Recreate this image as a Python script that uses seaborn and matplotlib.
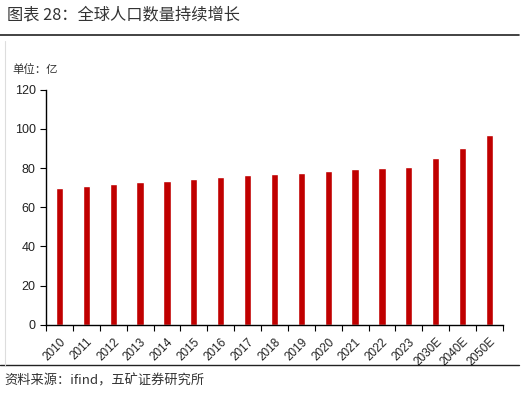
import matplotlib
matplotlib.use("Agg")
import matplotlib.pyplot as plt
import seaborn as sns
import pandas as pd
import numpy as np
from matplotlib.lines import Line2D

years = ["2010", "2011", "2012", "2013", "2014", "2015", "2016", "2017", "2018",
         "2019", "2020", "2021", "2022", "2023", "2030E", "2040E", "2050E"]
population = [70.0, 70.8, 72.0, 72.7, 73.5, 74.4, 75.2, 76.3, 77.0,
              77.6, 78.6, 79.3, 80.0, 80.7, 84.9, 90.0, 97.0]
y_ticks = [0, 20, 40, 60, 80, 100, 120]

title = "图表 28：全球人口数量持续增长"
unit = "单位：亿"
source = "资料来源：ifind，五矿证券研究所"

sns.set_theme(style="white")
plt.rcParams['font.family'] = ['Noto Sans CJK SC', 'DejaVu Sans']

df = pd.DataFrame({"year": years, "pop": population})

fig = plt.figure(figsize=(5.24, 3.93), dpi=100)
ax = fig.add_axes([0.0878, 0.1738, 0.872, 0.598])
sns.barplot(data=df, x="year", y="pop", color="#C00000", saturation=1,
            width=0.27, ax=ax)

ax.set_ylim(0, 120)
ax.set_yticks(y_ticks)
ax.set_xlim(-0.5, len(years) - 0.5)
ax.set_xlabel("")
ax.set_ylabel("")
ax.set_xticks(range(len(years)))
ax.set_xticklabels(years, rotation=45, ha="right", rotation_mode="anchor",
                   fontsize=8.5, family=['Liberation Sans'], color="#222222")
ax.set_xticks(np.arange(-0.5, len(years)), minor=True)
ax.tick_params(axis="x", which="major", length=0, pad=8)
ax.tick_params(axis="x", which="minor", length=4, width=0.8, color="black",
               direction="out", bottom=True)
ax.tick_params(axis="y", length=4, width=0.8, color="black", direction="out",
               left=True, labelsize=9, labelcolor="#222222")
for lab in ax.get_yticklabels():
    lab.set_family('Liberation Sans')
for s in ["top", "right"]:
    ax.spines[s].set_visible(False)
for s in ["left", "bottom"]:
    ax.spines[s].set_color("black")
    ax.spines[s].set_linewidth(1.0)

fig.text(0.013, 0.962, title, fontsize=11.7, color="#333333", va="center")
fig.add_artist(Line2D([0.0, 0.99], [0.91, 0.91], transform=fig.transFigure,
                      color="#222222", lw=1.2))
fig.add_artist(Line2D([0.0, 0.99], [0.072, 0.072], transform=fig.transFigure,
                      color="#222222", lw=1.0))
fig.add_artist(Line2D([0.009, 0.009], [0.072, 0.895], transform=fig.transFigure,
                      color="#dddddd", lw=0.8))
fig.text(0.023, 0.822, unit, fontsize=8.2, color="#333333", va="center")
fig.text(0.008, 0.030, source, fontsize=9.5, color="#333333", va="center")

fig.savefig("out.png", dpi=100)
